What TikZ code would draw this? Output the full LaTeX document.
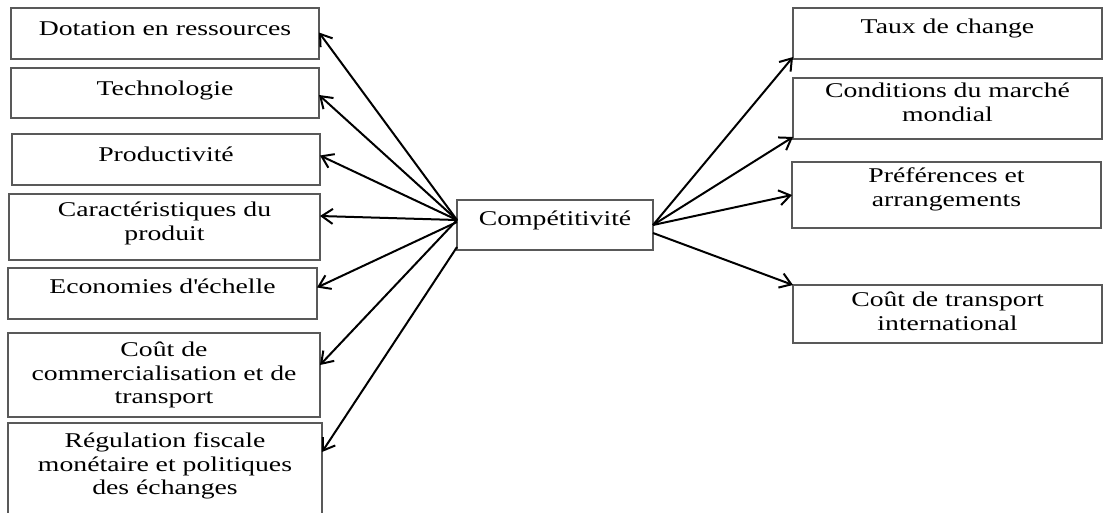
\documentclass[tikz,border=0pt]{standalone}
\usepackage{fontspec}
\setmainfont{Liberation Serif}[FakeStretch=1.32]
\usetikzlibrary{arrows.meta,calc}

\tikzset{
  box/.style={draw=black!65, line width=1.5pt, inner sep=0pt, outer sep=0pt, anchor=north west},
  lbl/.style={anchor=north, align=center, inner sep=0pt,
    font=\fontsize{21}{23.3}\selectfont,
    execute at begin node={\rule{0pt}{20pt}}},
  arr/.style={-{Straight Barb[length=11pt,width=15pt]}, line width=2pt, black},
}

\begin{document}
\begin{tikzpicture}[x=1pt,y=-1pt]
  \clip (0,0) rectangle (1106,512);
  \fill[white] (0,0) rectangle (1106,512);

  % left column: factors
  \node[box, minimum width=308pt, minimum height=51pt] (L1) at (11,8) {};
  \node[box, minimum width=308pt, minimum height=50pt] (L2) at (11,68) {};
  \node[box, minimum width=308pt, minimum height=51pt] (L3) at (12,134) {};
  \node[box, minimum width=311pt, minimum height=66pt] (L4) at (9,194) {};
  \node[box, minimum width=309pt, minimum height=51pt] (L5) at (8,268) {};
  \node[box, minimum width=312pt, minimum height=84pt] (L6) at (8,333) {};
  \node[box, minimum width=314pt, minimum height=100pt] (L7) at (8,423) {};

  \node[lbl] (tL1) at ($(L1.north)+(0,7)$) {Dotation en ressources};
  \node[lbl] (tL2) at ($(L2.north)+(0,7)$) {Technologie};
  \node[lbl] (tL3) at ($(L3.north)+(0,7)$) {Productivité};
  \node[lbl] (tL4) at ($(L4.north)+(0,8)$) {Caractéristiques du\\produit};
  \node[lbl] (tL5) at ($(L5.north)+(0,5)$) {Economies d\textquotesingle échelle};
  \node[lbl] (tL6) at ($(L6.north)+(0,9)$) {Coût de\\commercialisation et de\\transport};
  \node[lbl] (tL7) at ($(L7.north)+(0,10)$) {Régulation fiscale\\monétaire et politiques\\des échanges};

  % centre
  \node[box, minimum width=196pt, minimum height=50pt] (C) at (457,200) {};
  \node[lbl] (tC) at ($(C.north)+(0,5)$) {Compétitivité};

  % right column: external conditions
  \node[box, minimum width=309pt, minimum height=51pt] (R1) at (793,8) {};
  \node[box, minimum width=309pt, minimum height=61pt] (R2) at (793,78) {};
  \node[box, minimum width=309pt, minimum height=66pt] (R3) at (792,162) {};
  \node[box, minimum width=309pt, minimum height=58pt] (R4) at (793,285) {};

  \node[lbl] (tR1) at ($(R1.north)+(0,5)$) {Taux de change};
  \node[lbl] (tR2) at ($(R2.north)+(0,5)$) {Conditions du marché\\mondial};
  \node[lbl] (tR3) at ($(R3.north)+(0,6)$) {Préférences et\\arrangements};
  \node[lbl] (tR4) at ($(R4.north)+(0,7)$) {Coût de transport\\international};

  % connectors
  \coordinate (hub) at ($(C.west)+(0,-5)$);
  \draw[arr] (hub) -- ($(L1.east)+(0,-1)$);
  \draw[arr] (hub) -- ($(L2.east)+(0,2)$);
  \draw[arr] (hub) -- ($(L3.east)+(0,-4)$);
  \draw[arr] (hub) -- ($(L4.east)+(0,-11)$);
  \draw[arr] ($(C.west)+(0,-3)$) -- ($(L5.east)+(0,-6)$);
  \draw[arr] (hub) -- ($(L6.east)+(0,-10)$);
  \draw[arr] ($(C.south west)+(0,-3)$) -- ($(L7.north east)+(0,29)$);

  \draw[arr] (C.east) -- ($(R1.south west)+(0,-2)$);
  \draw[arr] (C.east) -- ($(R2.south west)+(0,-2)$);
  \draw[arr] (C.east) -- (R3.west);
  \draw[arr] ($(C.east)+(0,8)$) -- (R4.north west);
\end{tikzpicture}
\end{document}
